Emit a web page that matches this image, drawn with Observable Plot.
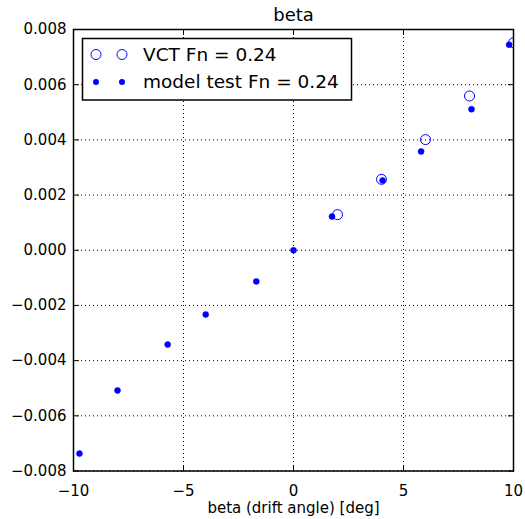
<!DOCTYPE html>
<html>
<head>
<meta charset="utf-8">
<script src="https://cdn.jsdelivr.net/npm/d3@7"></script>
<script src="https://cdn.jsdelivr.net/npm/@observablehq/plot@0.6"></script>
<style>
  html, body { margin: 0; padding: 0; background: #fff; }
  #chart { position: relative; width: 525px; height: 519px; }
  svg { font-family: "DejaVu Sans", sans-serif; }
</style>
</head>
<body>
<div id="chart"></div>
<script>
// ---- data ----
const vctBeta = [2, 4, 6, 8, 10];
const vctValue = [0.00129, 0.00257, 0.00401, 0.00559, 0.00752];
const modelBeta = [-9.73, -8.0, -5.72, -3.99, -1.69, 0, 1.75, 4.05, 5.8, 8.09, 9.8];
const modelValue = [-0.00737, -0.00508, -0.00342, -0.00233, -0.00113, 0, 0.00122, 0.00253, 0.00358, 0.00511, 0.00745];
const xTicks = [-10, -5, 0, 5, 10];
const yTicks = [-0.008, -0.006, -0.004, -0.002, 0, 0.002, 0.004, 0.006, 0.008];
const titleText = "beta";
const xLabel = "beta (drift angle) [deg]";
const legendLabels = ["VCT Fn = 0.24", "model test Fn = 0.24"];

const vct = vctBeta.map((b, i) => ({b, v: vctValue[i]}));
const model = modelBeta.map((b, i) => ({b, v: modelValue[i]}));
const xDomain = [xTicks[0], xTicks[xTicks.length - 1]];
const yDomain = [yTicks[0], yTicks[yTicks.length - 1]];

const blue = "#0000ff";
const tickShape = {draw(ctx, l) { ctx.moveTo(0, 0); ctx.lineTo(0, -l); }};
const tickOpts = {length: 5, anchor: "start", shape: tickShape, stroke: "black", strokeWidth: 1};

const plot = Plot.plot({
  width: 525,
  height: 519,
  marginLeft: 73,
  marginRight: 12,
  marginTop: 29,
  marginBottom: 48.5,
  style: {fontFamily: "DejaVu Sans, sans-serif", fontSize: "15px", background: "white", color: "black"},
  x: {domain: xDomain, label: null},
  y: {domain: yDomain, label: null},
  marks: [
    Plot.gridX(xTicks, {stroke: "black", strokeOpacity: 1, strokeDasharray: "1,3", strokeWidth: 1}),
    Plot.gridY(yTicks, {stroke: "black", strokeOpacity: 1, strokeDasharray: "1,3", strokeWidth: 1}),
    // inward ticks on all four sides
    Plot.vector(xTicks, {x: d => d, y: yDomain[0], rotate: 0, ...tickOpts}),
    Plot.vector(xTicks, {x: d => d, y: yDomain[1], rotate: 180, ...tickOpts}),
    Plot.vector(yTicks, {y: d => d, x: xDomain[0], rotate: 90, ...tickOpts}),
    Plot.vector(yTicks, {y: d => d, x: xDomain[1], rotate: -90, ...tickOpts}),
    Plot.axisX(xTicks, {tickSize: 0, tickPadding: 14, tickFormat: d3.format("d"), fontSize: 15, label: null}),
    Plot.axisY(yTicks, {tickSize: 0, tickPadding: 7, tickFormat: d3.format(".3f"), fontSize: 15, label: null}),
    Plot.text([xLabel], {frameAnchor: "bottom", dy: 37, fontSize: 15, lineAnchor: "middle", fill: "black"}),
    Plot.text([titleText], {frameAnchor: "top", dy: -14, fontSize: 18, lineAnchor: "middle", fill: "black"}),
    Plot.dot(model, {x: "b", y: "v", r: 3, fill: blue, stroke: blue, strokeWidth: 0.5, clip: true}),
    Plot.dot(vct, {x: "b", y: "v", r: 5, fill: "none", stroke: blue, strokeWidth: 1, clip: true}),
    Plot.frame({stroke: "black", strokeWidth: 1.5})
  ]
});

document.getElementById("chart").appendChild(plot);

// legend box drawn into the SVG
const svg = d3.select(plot);
const lg = svg.append("g");
lg.append("rect").attr("x", 82.5).attr("y", 38.5).attr("width", 269).attr("height", 61.5)
  .attr("fill", "white").attr("stroke", "black").attr("stroke-width", 1.5);
const rows = [54.5, 82];
legendLabels.forEach((label, i) => {
  const y = rows[i];
  [96, 122].forEach(x => {
    if (i === 0) lg.append("circle").attr("cx", x).attr("cy", y).attr("r", 5).attr("fill", "none").attr("stroke", blue).attr("stroke-width", 1);
    else lg.append("circle").attr("cx", x).attr("cy", y).attr("r", 3).attr("fill", blue);
  });
  lg.append("text").attr("x", 143).attr("y", y).attr("dy", "0.35em")
    .attr("style", "font-family: 'DejaVu Sans', sans-serif; font-size: 18.5px; text-anchor: start; fill: black;")
    .text(label);
});
</script>
</body>
</html>
